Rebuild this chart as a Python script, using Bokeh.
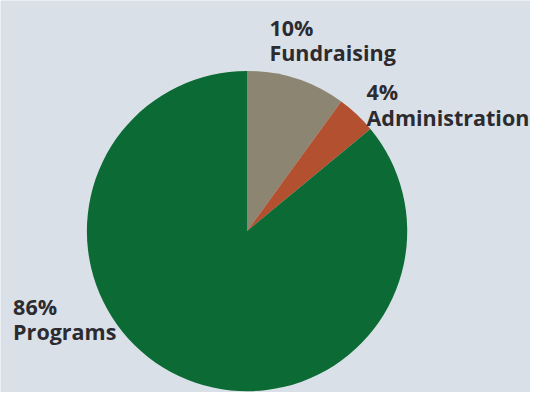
import math
from bokeh.plotting import figure
from bokeh.models import Range1d, ColumnDataSource
from bokeh.core.properties import value
from bokeh.embed import file_html
from bokeh.resources import INLINE

categories = ["Fundraising", "Administration", "Programs"]
percents = [10, 4, 86]
colors = ["#8b8571", "#b3502f", "#0c6a34"]

# angles, clockwise from 12 o'clock
starts, ends = [], []
acc = 0.0
for v in percents:
    starts.append(math.pi / 2 - 2 * math.pi * acc / 100)
    acc += v
    ends.append(math.pi / 2 - 2 * math.pi * acc / 100)

src = ColumnDataSource(dict(cat=categories, start=starts, end=ends, color=colors))

W, H = 530, 392
RW, RH = 546, 408
p = figure(width=W, height=H, output_backend="svg", toolbar_location=None,
           x_range=Range1d(0, RW), y_range=Range1d(0, RH),
           min_border=0, border_fill_color="#dae0e8", background_fill_color="#dae0e8")
p.axis.visible = False
p.grid.visible = False
p.outline_line_color = None

cx, cy, r = 254, RH - 240, 165
p.wedge(x=cx, y=cy, radius=r, start_angle="start", end_angle="end", direction="clock",
        fill_color="color", line_color=None, source=src)

labels = [
    (277, 28, f"{percents[0]}%"), (277, 54, categories[0]),
    (377, 95, f"{percents[1]}%"), (377, 122, categories[1]),
    (13, 318, f"{percents[2]}%"), (13, 344, categories[2]),
]
p.text(x=[l[0] for l in labels], y=[RH - l[1] for l in labels], text=[l[2] for l in labels],
       text_font=value("Open Sans"), text_font_style="bold", text_font_size="21.5px",
       text_color="#2b2b30", text_baseline="alphabetic", text_align="left")

open("out.html", "w").write(file_html(p, INLINE))
